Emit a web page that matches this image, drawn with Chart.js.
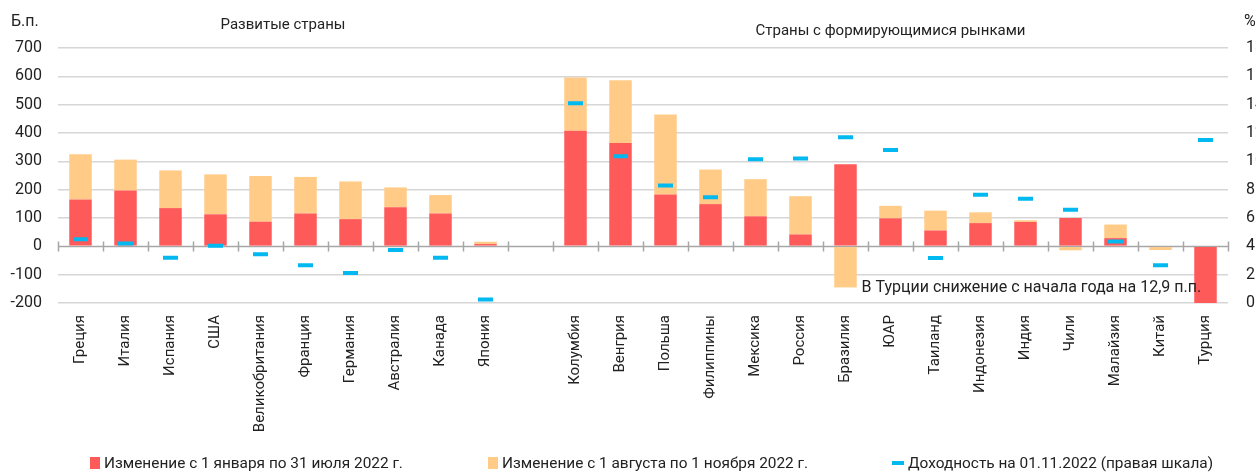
<!DOCTYPE html>
<html>
<head>
<meta charset="utf-8">
<script src="https://cdn.jsdelivr.net/npm/chart.js@4/dist/chart.umd.min.js"></script>
<style>
  html, body { margin: 0; padding: 0; background: #fff; overflow: hidden; }
  #wrap { position: relative; width: 1256px; height: 472px; overflow: hidden; }
  #grafica { display: block; }
  .leyenda { position: absolute; top: 454px; font: 15.4px Roboto, sans-serif; color: #222; white-space: nowrap; }
  .leyenda span.caja { display: inline-block; width: 10px; height: 12px; margin-right: 4px; vertical-align: -1px; }
</style>
</head>
<body>
<div id="wrap">
  <canvas id="grafica" width="1272" height="472" style="width:1272px;height:472px"></canvas>
  <div class="leyenda" style="left:90px"><span class="caja" style="background:#ff5a5a"></span>Изменение с 1 января по 31 июля 2022 г.</div>
  <div class="leyenda" style="left:488px"><span class="caja" style="background:#ffcb87"></span>Изменение с 1 августа по 1 ноября 2022 г.</div>
  <div class="leyenda" style="left:892px"><span class="caja" style="background:#00b9f0;height:4px;width:12px;vertical-align:3px"></span>Доходность на 01.11.2022 (правая шкала)</div>
</div>
<script>
(function(){
  // paises (hueco vacio entre los dos grupos)
  const paises = ['Греция','Италия','Испания','США','Великобритания','Франция','Германия','Австралия','Канада','Япония','',
    'Колумбия','Венгрия','Польша','Филиппины','Мексика','Россия','Бразилия','ЮАР','Таиланд','Индонезия','Индия','Чили','Малайзия','Китай','Турция'];

  // б.п., 1 января - 31 июля
  const cambioEneJul = [165,197,135,113,87,116,96,138,116,8,null,
    408,365,183,149,106,42,290,99,56,82,86,100,29,0,-1290];
  // б.п., 1 августа - 1 ноября
  const cambioAgoNov = [160,109,133,141,161,129,133,70,65,8,null,
    188,221,282,122,131,135,-145,44,70,38,6,-14,48,-13,0];
  // %, доходность на 01.11.2022
  const rendimiento = [4.5,4.2,3.2,4.05,3.44,2.66,2.12,3.74,3.2,0.25,null,
    14.1,10.36,8.3,7.47,10.15,10.2,11.7,10.8,3.18,7.64,7.36,6.58,4.35,2.66,11.5];

  const titulos = ['Развитые страны','Страны с формирующимися рынками'];
  const nota = 'В Турции снижение с начала года на 12,9 п.п.';

  const fuente = 'Roboto, sans-serif';
  const texto = '#222';

  // linea del cero, marcas y textos sueltos
  const decorado = {
    id: 'decorado',
    beforeDatasetsDraw(chart){
      const {ctx, chartArea, scales} = chart;
      const y0 = Math.round(scales.y.getPixelForValue(0)) + 0.5;
      const paso = (chartArea.right - chartArea.left) / paises.length;
      ctx.save();
      ctx.strokeStyle = '#a6a6a6';
      ctx.lineWidth = 1.5;
      ctx.beginPath();
      ctx.moveTo(chartArea.left, y0);
      ctx.lineTo(chartArea.right, y0);
      for(let i = 0; i <= paises.length; i++){
        const x = Math.round(chartArea.left + i * paso) + 0.5;
        ctx.moveTo(x, y0 - 5);
        ctx.lineTo(x, y0 + 5);
      }
      ctx.stroke();
      ctx.restore();
    },
    afterDraw(chart){
      const {ctx, scales} = chart;
      const x = scales.x;
      ctx.save();
      ctx.fillStyle = texto;
      ctx.font = '15px ' + fuente;
      ctx.textBaseline = 'middle';
      ctx.textAlign = 'center';
      ctx.fillText(titulos[0], (x.getPixelForValue(0) + x.getPixelForValue(9)) / 2, 25);
      ctx.fillText(titulos[1], (x.getPixelForValue(11) + x.getPixelForValue(25)) / 2, 31);
      ctx.font = '16px ' + fuente;
      ctx.textAlign = 'left';
      ctx.fillText('Б.п.', 11, 22);
      ctx.fillText('%', 1244, 22);
      ctx.fillText(nota, x.getPixelForValue(17) + 16, scales.y.getPixelForValue(-148));
      ctx.restore();
    }
  };

  new Chart(document.getElementById('grafica'), {
    type: 'bar',
    data: {
      labels: paises,
      datasets: [
        {
          label: 'Изменение с 1 января по 31 июля 2022 г.',
          data: cambioEneJul,
          backgroundColor: '#ff5a5a',
          yAxisID: 'y',
          stack: 's',
          order: 2
        },
        {
          label: 'Изменение с 1 августа по 1 ноября 2022 г.',
          data: cambioAgoNov,
          backgroundColor: '#ffcb87',
          yAxisID: 'y',
          stack: 's',
          order: 2
        },
        {
          type: 'line',
          label: 'Доходность на 01.11.2022 (правая шкала)',
          data: rendimiento,
          yAxisID: 'y1',
          showLine: false,
          pointStyle: 'line',
          pointRadius: 7.5,
          pointHoverRadius: 7.5,
          pointBorderWidth: 4,
          pointBorderColor: '#00b9f0',
          pointBackgroundColor: '#00b9f0',
          order: 0
        }
      ]
    },
    options: {
      responsive: false,
      animation: false,
      layout: { padding: { top: 48, bottom: 0, left: 0, right: 0 } },
      datasets: {
        bar: { categoryPercentage: 1, barPercentage: 0.5 }
      },
      scales: {
        x: {
          stacked: true,
          grid: { display: false, drawTicks: false },
          border: { display: false },
          ticks: {
            autoSkip: false,
            minRotation: 90,
            maxRotation: 90,
            padding: 12,
            color: texto,
            font: { family: fuente, size: 15 }
          },
          afterFit(s){ s.height = 472 - 48 - 255; }
        },
        y: {
          position: 'left',
          stacked: true,
          min: -200,
          max: 700,
          grid: {
            drawTicks: false,
            lineWidth: 1.5,
            color: c => c.tick.value === 0 ? 'rgba(0,0,0,0)' : '#d6d6d6'
          },
          border: { display: false },
          ticks: {
            stepSize: 100,
            padding: 16,
            color: texto,
            font: { family: fuente, size: 16 }
          },
          afterFit(s){ s.width = 58; }
        },
        y1: {
          position: 'right',
          min: 0,
          max: 18,
          grid: { display: false, drawTicks: false },
          border: { display: false },
          ticks: {
            stepSize: 2,
            padding: 18,
            color: texto,
            font: { family: fuente, size: 16 }
          },
          afterFit(s){ s.width = 44; }
        }
      },
      plugins: {
        legend: { display: false },
        tooltip: { enabled: false }
      }
    },
    plugins: [decorado]
  });
})();
</script>
</body>
</html>
